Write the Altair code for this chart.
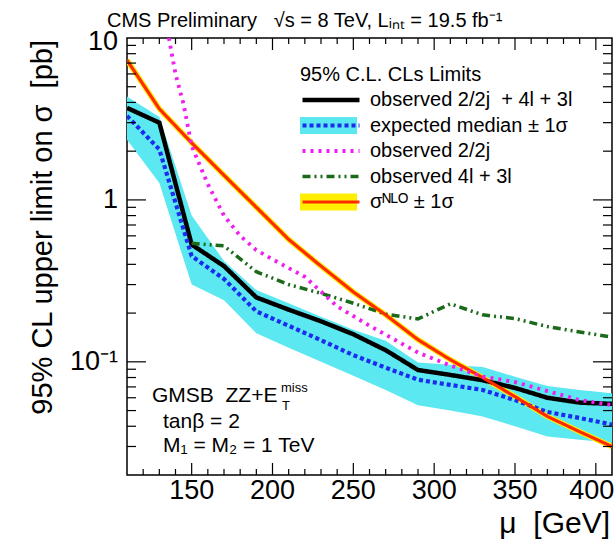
import altair as alt
import pandas as pd

FONT = "Liberation Sans"
NB = "\u00a0"

# ---- data ----
mu = [110, 130, 150, 170, 190, 210, 230, 250, 270, 290, 310, 330, 350, 370, 390, 410]
obs_comb = [3.7, 3.0, 0.53, 0.39, 0.25, 0.21, 0.178, 0.148, 0.118, 0.089, 0.083, 0.077, 0.069, 0.060, 0.056, 0.055]
exp_med = [3.3, 2.05, 0.45, 0.325, 0.205, 0.167, 0.136, 0.110, 0.092, 0.0775, 0.072, 0.067, 0.058, 0.049, 0.045, 0.041]
exp_up = [4.35, 3.25, 0.80, 0.42, 0.278, 0.23, 0.19, 0.158, 0.135, 0.099, 0.096, 0.093, 0.081, 0.071, 0.067, 0.064]
exp_dn = [2.35, 1.27, 0.30, 0.24, 0.15, 0.122, 0.10, 0.082, 0.067, 0.054, 0.050, 0.046, 0.040, 0.0346, 0.033, 0.0316]
nlo = [7.3, 3.65, 2.25, 1.42, 0.90, 0.57, 0.39, 0.27, 0.195, 0.137, 0.103, 0.080, 0.061, 0.046, 0.037, 0.030]

mu_2l = [135, 140, 145, 150, 160, 170, 180, 190, 200, 220, 240, 260, 290, 310, 330, 350, 370, 390, 410]
obs_2l = [11.2, 6.0, 3.9, 2.15, 1.25, 0.80, 0.60, 0.49, 0.43, 0.335, 0.22, 0.167, 0.114, 0.095, 0.081, 0.075, 0.066, 0.058, 0.054]

mu_4l = [150, 170, 190, 210, 230, 250, 270, 290, 310, 330, 350, 370, 390, 410]
obs_4l = [0.54, 0.52, 0.36, 0.30, 0.265, 0.23, 0.197, 0.184, 0.228, 0.195, 0.185, 0.165, 0.153, 0.142]

series_names = [
    "observed 2/2j" + NB + NB + "+ 4l + 3l",
    "expected median ± 1σ",
    "observed 2/2j",
    "observed 4l + 3l",
    "σᴺᴸᴼ ± 1σ",
]
band_keys = ["b1", "b2", "b3", "b4", "b5"]

# tick positions and tick labels
x_major = [150, 200, 250, 300, 350, 400]
x_major_text = ["150", "200", "250", "300", "350", "400"]
x_minor = [120, 130, 140, 160, 170, 180, 190, 210, 220, 230, 240, 260, 270, 280, 290,
           310, 320, 330, 340, 360, 370, 380, 390]
y_major = [0.1, 1]
y_major_text = ["10⁻¹", "1"]
y_top = [10]
y_top_text = ["10"]
y_minor = [0.03, 0.04, 0.05, 0.06, 0.07, 0.08, 0.09,
           0.2, 0.3, 0.4, 0.5, 0.6, 0.7, 0.8, 0.9,
           2, 3, 4, 5, 6, 7, 8, 9]

# ---- tables ----
rows = []
for m, v in zip(mu, obs_comb):
    rows.append({"mu": m, "val": v, "series": series_names[0]})
for m, v in zip(mu, exp_med):
    rows.append({"mu": m, "val": v, "series": series_names[1]})
for m, v in zip(mu_4l, obs_4l):
    rows.append({"mu": m, "val": v, "series": series_names[3]})
for m, v in zip(mu, nlo):
    rows.append({"mu": m, "val": v, "series": series_names[4]})
lines_df = pd.DataFrame(rows)
mag_df = pd.DataFrame({"mu": mu_2l, "val": obs_2l, "series": series_names[2]})
band_df = pd.DataFrame({"mu": mu, "up": exp_up, "dn": exp_dn, "band": "b2"})
nlo_df = pd.DataFrame({"mu": mu, "val": nlo})

W, H = 485, 437

# ---- scales ----
xs = alt.Scale(domain=[110, 410], nice=False, zero=False)
ys = alt.Scale(type="log", domain=[0.02, 10], nice=False)

stroke_scale = alt.Scale(domain=series_names,
                         range=["#000000", "#1a2cf0", "#f01ef0", "#1a6a1a", "#ff2a00"])
dash_scale = alt.Scale(domain=series_names,
                       range=[[1, 0], [4, 3], [3, 5], [8, 4, 2, 4, 2, 4], [1, 0]])
width_scale = alt.Scale(domain=series_names, range=[4.5, 3.2, 3.5, 2.8, 1.8])
fill_scale = alt.Scale(domain=band_keys,
                       range=["transparent", "#5ce8f0", "transparent", "transparent", "#ffee00"])

LEG_X = 173
LEG_Y = 27
common_leg = dict(orient="none", legendX=LEG_X, legendY=LEG_Y, symbolSize=3249,
                  labelFont=FONT, labelFontSize=20, titleFont=FONT, titleFontSize=20,
                  titleFontWeight="normal", labelOffset=8, rowPadding=5.5, titlePadding=5,
                  padding=0, labelLimit=400, titleLimit=400, clipHeight=20)
stroke_leg = alt.Legend(symbolType="stroke", labelColor="black", titleColor="black",
                        title="95% C.L. CLs Limits", **common_leg)
fill_leg = alt.Legend(symbolType="M-1,-0.3H1V0.3H-1Z", labelExpr="''", title=" ",
                      symbolStrokeWidth=0, symbolOpacity=1, **common_leg)

band = alt.Chart(band_df).mark_area(opacity=1, clip=True).encode(
    x=alt.X("mu:Q", scale=xs, axis=None),
    y=alt.Y("up:Q", scale=ys, axis=None),
    y2="dn:Q",
    fill=alt.Fill("band:N", scale=fill_scale, legend=fill_leg),
)

nlo_under = alt.Chart(nlo_df).mark_line(color="#ffee00", strokeWidth=5.5, clip=True).encode(
    x=alt.X("mu:Q", scale=xs, axis=None),
    y=alt.Y("val:Q", scale=ys, axis=None),
)

lines = alt.Chart(lines_df).mark_line(clip=True).encode(
    x=alt.X("mu:Q", scale=xs, axis=None),
    y=alt.Y("val:Q", scale=ys, axis=None),
    stroke=alt.Stroke("series:N", scale=stroke_scale, legend=stroke_leg),
    strokeDash=alt.StrokeDash("series:N", scale=dash_scale, legend=stroke_leg),
    strokeWidth=alt.StrokeWidth("series:N", scale=width_scale, legend=stroke_leg),
    detail="series:N",
)

mag = alt.Chart(mag_df).mark_line(clip=True).encode(
    x=alt.X("mu:Q", scale=xs, axis=None),
    y=alt.Y("val:Q", scale=ys, axis=None),
    stroke=alt.Stroke("series:N", scale=stroke_scale, legend=stroke_leg),
    strokeDash=alt.StrokeDash("series:N", scale=dash_scale, legend=stroke_leg),
    strokeWidth=alt.StrokeWidth("series:N", scale=width_scale, legend=stroke_leg),
)


# ---- inward axis ticks on all four sides (positions from the scales) ----
def xticks(vals, a, b):
    return alt.Chart(pd.DataFrame({"v": vals})).mark_rule(color="black", strokeWidth=1.2).encode(
        x=alt.X("v:Q", scale=xs, axis=None), y=alt.value(a), y2=alt.value(b))


def yticks(vals, a, b):
    return alt.Chart(pd.DataFrame({"v": vals})).mark_rule(color="black", strokeWidth=1.2).encode(
        y=alt.Y("v:Q", scale=ys, axis=None), x=alt.value(a), x2=alt.value(b))


ticks = [
    xticks(x_major, H, H - 12), xticks(x_minor, H, H - 6),
    xticks(x_major, 0, 12), xticks(x_minor, 0, 6),
    yticks(y_major, 0, 19), yticks(y_minor, 0, 9),
    yticks(y_major, W, W - 19), yticks(y_minor, W, W - 9),
]

# ---- tick labels placed through the scales ----
x_labels = alt.Chart(pd.DataFrame({"v": x_major[:-1], "t": x_major_text[:-1]})).mark_text(
    font=FONT, fontSize=27, align="center", baseline="top", color="black"
).encode(x=alt.X("v:Q", scale=xs, axis=None), y=alt.value(H + 3), text="t:N")

x_labels_last = alt.Chart(pd.DataFrame({"v": x_major[-1:], "t": x_major_text[-1:]})).mark_text(
    font=FONT, fontSize=27, align="center", baseline="top", color="black", dx=-4
).encode(x=alt.X("v:Q", scale=xs, axis=None), y=alt.value(H + 3), text="t:N")

y_labels = alt.Chart(pd.DataFrame({"v": y_major, "t": y_major_text})).mark_text(
    font=FONT, fontSize=27, align="right", baseline="middle", color="black"
).encode(y=alt.Y("v:Q", scale=ys, axis=None), x=alt.value(-9), text="t:N")

y_labels_top = alt.Chart(pd.DataFrame({"v": y_top, "t": y_top_text})).mark_text(
    font=FONT, fontSize=27, align="right", baseline="middle", color="black", dy=4
).encode(y=alt.Y("v:Q", scale=ys, axis=None), x=alt.value(-9), text="t:N")


def label(text, x, y, size=21, align="left", angle=0):
    return alt.Chart(pd.DataFrame({"t": [text]})).mark_text(
        font=FONT, fontSize=size, align=align, baseline="middle", color="black", angle=angle
    ).encode(x=alt.value(x), y=alt.value(y), text="t:N")


texts = [
    label("CMS Preliminary" + NB * 3 + "√s = 8 TeV, Lᵢₙₜ = 19.5 fb⁻¹", -20, -17, size=20),
    label("GMSB" + NB + NB + "ZZ+E", 25, 358),
    label("miss", 154, 350, size=13),
    label("T", 155, 368, size=13),
    label("tanβ = 2", 36, 384),
    label("M₁ = M₂ = 1 TeV", 36, 408),
    label("μ" + NB + NB + "[GeV]", W - 2, H + 49, size=30, align="right"),
    label("95% CL upper limit on σ" + NB + NB + "[pb]", -84, 2, size=29, align="right", angle=270),
]

chart = alt.layer(band, nlo_under, lines, mag, x_labels, x_labels_last, y_labels,
                  y_labels_top, *texts, *ticks).properties(
    width=W, height=H,
    autosize=alt.AutoSizeParams(type="none"),
    padding={"left": 127, "top": 38, "right": 4, "bottom": 67},
    background="white",
).configure_view(stroke="black", strokeWidth=1.5)

chart.save("out.html", embed_options={"renderer": "svg", "actions": False})
